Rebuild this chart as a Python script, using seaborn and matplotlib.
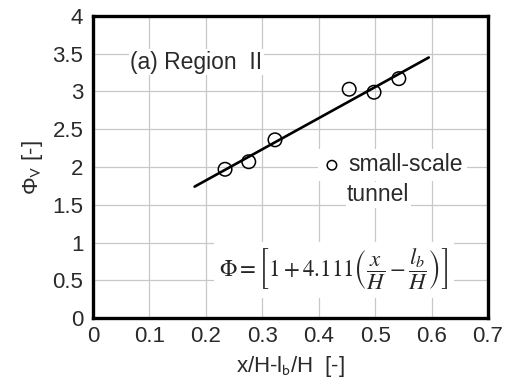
import pandas as pd
import seaborn as sns
import matplotlib.pyplot as plt

# measured points, small-scale tunnel
x_vals = [0.234, 0.276, 0.3225, 0.454, 0.498, 0.542]
phi_vals = [1.97, 2.07, 2.36, 3.03, 2.99, 3.17]

# fitted line end points
fit_x = [0.18, 0.595]
fit_y = [1.74, 3.45]

x_ticks = [0, 0.1, 0.2, 0.3, 0.4, 0.5, 0.6, 0.7]
y_ticks = [0, 0.5, 1, 1.5, 2, 2.5, 3, 3.5, 4]

df = pd.DataFrame({'x': x_vals, 'phi': phi_vals})
fit_df = pd.DataFrame({'x': fit_x, 'phi': fit_y})

sns.set_style('white')
plt.rcParams['font.family'] = ['Liberation Sans', 'DejaVu Sans']
txt = '#2a2a2a'
fs = 16

fig, ax = plt.subplots(figsize=(5.11, 3.8), dpi=100)
fig.subplots_adjust(left=0.182, right=0.955, bottom=0.163, top=0.958)

sns.lineplot(data=fit_df, x='x', y='phi', color='black', lw=1.9, ax=ax, zorder=3)
sns.scatterplot(data=df, x='x', y='phi', marker='o', s=95, facecolor='none',
                edgecolor='black', linewidth=1.1, label='small-scale', ax=ax, zorder=4)

ax.set_xlim(0, 0.7)
ax.set_ylim(0, 4)
ax.set_xticks(x_ticks)
ax.set_xticklabels([str(t) for t in x_ticks])
ax.set_yticks(y_ticks)
ax.set_yticklabels([str(t) for t in y_ticks])
ax.grid(True, color='#c8c8c8', lw=0.9)
ax.set_axisbelow(True)
for s in ax.spines.values():
    s.set_linewidth(2.4)
    s.set_color('black')
ax.tick_params(axis='x', direction='in', length=4, width=1, labelsize=fs, pad=6,
               colors='black', labelcolor=txt)
ax.tick_params(axis='y', length=0, labelsize=fs, pad=7, labelcolor=txt)

ax.set_xlabel('x/H-l$_\\mathrm{b}$/H  [-]', fontsize=fs, color=txt, labelpad=5)
ax.set_ylabel('Φ$_\\mathrm{V}$ [-]', fontsize=fs, color=txt, labelpad=5)
ax.xaxis.label.set_math_fontfamily('stixsans')
ax.yaxis.label.set_math_fontfamily('stixsans')

ax.text(0.066, 3.39, '(a) Region  II', fontsize=16.5, color=txt, va='center',
        bbox=dict(facecolor='white', edgecolor='none', pad=1))

leg = ax.legend(loc='center left', bbox_to_anchor=(0.399, 2.03),
                bbox_transform=ax.transData, fontsize=16.5, markerscale=0.7,
                frameon=True, framealpha=1, edgecolor='none', fancybox=False,
                handletextpad=0.3, handlelength=0.8, borderpad=0.2, borderaxespad=0)
for t in leg.get_texts():
    t.set_color(txt)
ax.text(0.450, 1.63, 'tunnel', fontsize=16.5, color=txt, ha='left', va='center',
        bbox=dict(facecolor='white', edgecolor='none', pad=1))

ax.text(0.427, 0.64,
        r'$\Phi = \left[1 + 4.111\left(\dfrac{x}{H} - \dfrac{l_b}{H}\right)\right]$',
        fontsize=16.5, ha='center', va='center', math_fontfamily='stix',
        bbox=dict(facecolor='white', edgecolor='none', pad=4))

fig.savefig('out.png', dpi=100)
